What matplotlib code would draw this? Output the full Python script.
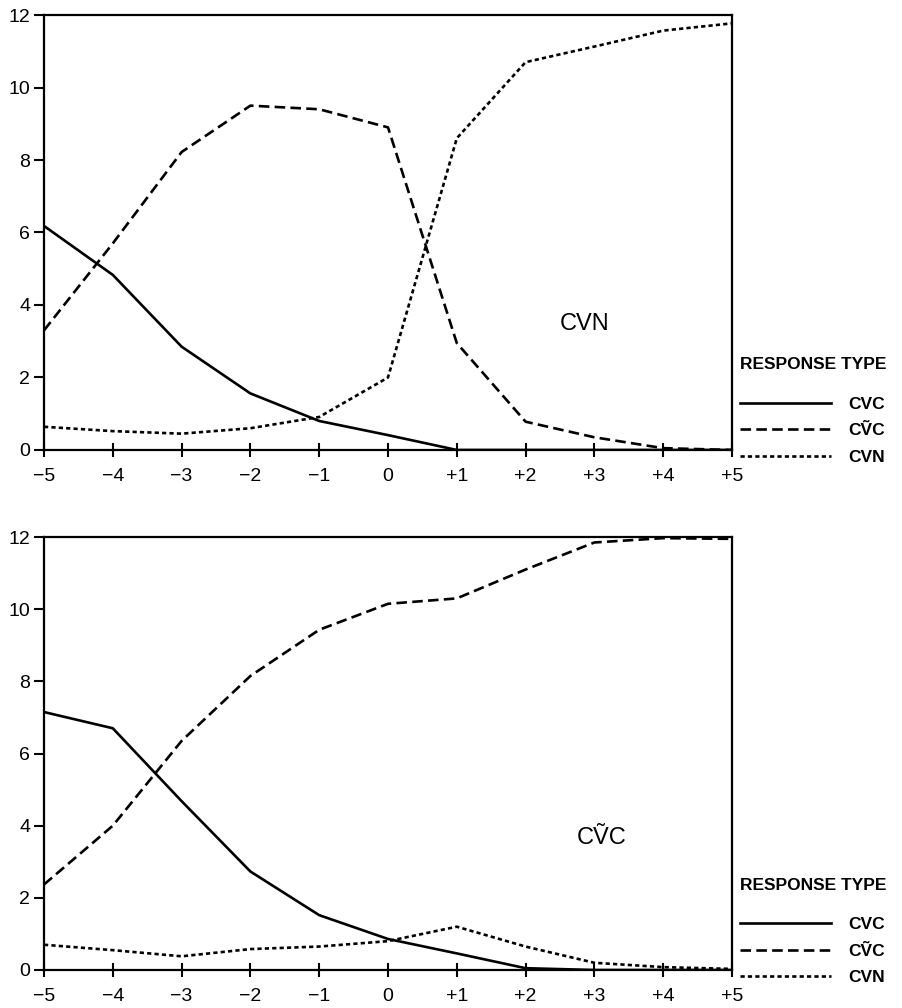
import matplotlib
matplotlib.use("Agg")
import matplotlib.pyplot as plt

plt.rcParams['font.family'] = ['Liberation Sans', 'DejaVu Sans']

x = [-5, -4, -3, -2, -1, 0, 1, 2, 3, 4, 5]
xtick_labels = ['\u22125', '\u22124', '\u22123', '\u22122', '\u22121', '0',
                '+1', '+2', '+3', '+4', '+5']
yticks = [0, 2, 4, 6, 8, 10, 12]

series_names = ['CVC', 'C\u1E7CC', 'CVN']
legend_title = 'RESPONSE TYPE'

# Panel 1: CVN stimulus
top_cvc = [6.18, 4.83, 2.85, 1.56, 0.80, 0.41, 0.0, 0.0, 0.0, 0.0, 0.0]
top_cvtc = [3.3, 5.7, 8.22, 9.5, 9.4, 8.9, 2.95, 0.78, 0.35, 0.05, 0.0]
top_cvn = [0.64, 0.52, 0.45, 0.6, 0.91, 2.0, 8.6, 10.7, 11.13, 11.57, 11.77]

# Panel 2: CVC-tilde stimulus
bot_cvc = [7.15, 6.7, 4.68, 2.73, 1.52, 0.86, 0.46, 0.05, 0.0, 0.0, 0.0]
bot_cvtc = [2.37, 4.0, 6.35, 8.15, 9.43, 10.15, 10.3, 11.1, 11.85, 11.97, 11.95]
bot_cvn = [0.7, 0.55, 0.38, 0.58, 0.65, 0.8, 1.2, 0.65, 0.2, 0.08, 0.03]

panel_labels = ['CVN', 'C\u1E7CC']

fig = plt.figure(figsize=(9.02, 10.08), dpi=100)
ax1 = fig.add_axes([0.0488, 0.5536, 0.7627, 0.4315])
ax2 = fig.add_axes([0.0488, 0.0377, 0.7627, 0.4295])

styles = [
    dict(linestyle='-', lw=1.9),
    dict(linestyle=(0, (4.0, 2.0)), lw=1.9),
    dict(linestyle=(0, (1.6, 1.2)), lw=1.9),
]

for ax, data, plabel, lab_xy in [
        (ax1, [top_cvc, top_cvtc, top_cvn], panel_labels[0], (0.786, 0.29)),
        (ax2, [bot_cvc, bot_cvtc, bot_cvn], panel_labels[1], (0.81, 0.305))]:
    for vals, name, st in zip(data, series_names, styles):
        ax.plot(x, vals, color='black', label=name, **st)
    ax.set_xlim(-5, 5)
    ax.set_ylim(0, 12)
    ax.set_xticks(x)
    ax.set_xticklabels(xtick_labels, fontsize=14)
    ax.set_yticks(yticks)
    ax.set_yticklabels([str(v) for v in yticks], fontsize=14)
    ax.tick_params(axis='y', direction='out', length=7, width=1.5, pad=3)
    ax.tick_params(axis='x', direction='inout', length=10, width=1.5, pad=8)
    for sp in ax.spines.values():
        sp.set_linewidth(1.6)
    ax.text(lab_xy[0], lab_xy[1], plabel, transform=ax.transAxes,
            ha='center', va='center', fontsize=17)
    ax.text(1.012, 0.196, legend_title, transform=ax.transAxes,
            ha='left', va='center', fontsize=12.5, fontweight='bold')
    leg = ax.legend(loc='upper left', bbox_to_anchor=(1.012, 0.123),
                    frameon=False, fontsize=12.5, handlelength=5.2,
                    handletextpad=1.0, labelspacing=0.67,
                    borderaxespad=0, borderpad=0)
    for t in leg.get_texts():
        t.set_fontweight('bold')

fig.savefig('out.png', dpi=100, facecolor='white')
